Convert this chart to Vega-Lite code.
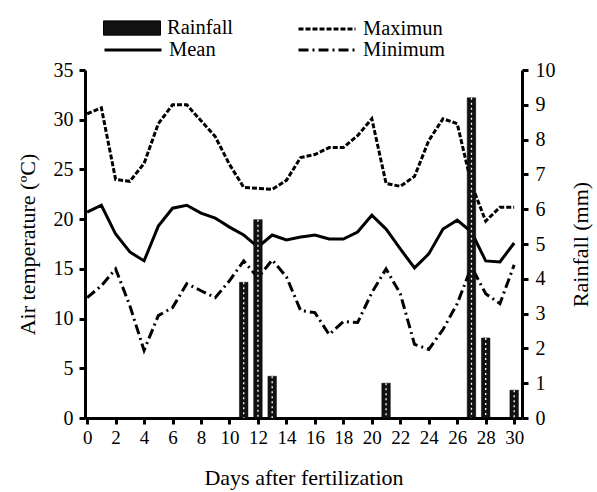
{
  "$schema": "https://vega.github.io/schema/vega-lite/v6.json",
  "width": 437,
  "height": 348,
  "autosize": {"type": "none"},
  "padding": {"left": 85, "top": 70, "right": 75, "bottom": 74},
  "background": "white",
  "config": {
    "view": {"stroke": null},
    "font": "Liberation Serif",
    "axis": {
      "labelFont": "Liberation Serif",
      "titleFont": "Liberation Serif",
      "labelColor": "black",
      "titleColor": "black",
      "domainColor": "black",
      "tickColor": "black",
      "domainWidth": 3,
      "tickWidth": 3,
      "tickSize": 6,
      "labelFontSize": 20,
      "titleFontSize": 22,
      "titleFontWeight": "normal",
      "grid": false
    },
    "legend": {
      "labelFont": "Liberation Serif",
      "labelFontSize": 20.5,
      "labelColor": "black",
      "padding": 0,
      "labelOffset": 6,
      "symbolStrokeWidth": 3,
      "symbolStrokeColor": "black",
      "symbolSize": 3249
    }
  },
  "data": {
    "values": [
      {"day": 0, "max": 30.6, "mean": 20.7, "min": 12.1, "rain": 0},
      {"day": 1, "max": 31.2, "mean": 21.4, "min": 13.3, "rain": 0},
      {"day": 2, "max": 24.0, "mean": 18.5, "min": 15.0, "rain": 0},
      {"day": 3, "max": 23.8, "mean": 16.7, "min": 11.3, "rain": 0},
      {"day": 4, "max": 25.6, "mean": 15.8, "min": 6.8, "rain": 0},
      {"day": 5, "max": 29.6, "mean": 19.3, "min": 10.3, "rain": 0},
      {"day": 6, "max": 31.5, "mean": 21.1, "min": 11.1, "rain": 0},
      {"day": 7, "max": 31.5, "mean": 21.4, "min": 13.5, "rain": 0},
      {"day": 8, "max": 29.9, "mean": 20.6, "min": 12.8, "rain": 0},
      {"day": 9, "max": 28.3, "mean": 20.1, "min": 12.1, "rain": 0},
      {"day": 10, "max": 25.5, "mean": 19.2, "min": 13.8, "rain": 0},
      {"day": 11, "max": 23.2, "mean": 18.4, "min": 15.8, "rain": 3.9},
      {"day": 12, "max": 23.1, "mean": 17.2, "min": 14.1, "rain": 5.7},
      {"day": 13, "max": 23.0, "mean": 18.4, "min": 15.9, "rain": 1.2},
      {"day": 14, "max": 23.9, "mean": 17.9, "min": 14.2, "rain": 0},
      {"day": 15, "max": 26.2, "mean": 18.2, "min": 10.8, "rain": 0},
      {"day": 16, "max": 26.5, "mean": 18.4, "min": 10.6, "rain": 0},
      {"day": 17, "max": 27.2, "mean": 18.0, "min": 8.4, "rain": 0},
      {"day": 18, "max": 27.2, "mean": 18.0, "min": 9.7, "rain": 0},
      {"day": 19, "max": 28.4, "mean": 18.7, "min": 9.6, "rain": 0},
      {"day": 20, "max": 30.1, "mean": 20.4, "min": 12.6, "rain": 0},
      {"day": 21, "max": 23.6, "mean": 19.0, "min": 15.0, "rain": 1.0},
      {"day": 22, "max": 23.3, "mean": 17.0, "min": 12.5, "rain": 0},
      {"day": 23, "max": 24.3, "mean": 15.1, "min": 7.4, "rain": 0},
      {"day": 24, "max": 27.9, "mean": 16.5, "min": 6.9, "rain": 0},
      {"day": 25, "max": 30.1, "mean": 19.0, "min": 8.9, "rain": 0},
      {"day": 26, "max": 29.6, "mean": 19.9, "min": 11.5, "rain": 0},
      {"day": 27, "max": 23.5, "mean": 18.7, "min": 15.2, "rain": 9.2},
      {"day": 28, "max": 19.8, "mean": 15.8, "min": 12.5, "rain": 2.3},
      {"day": 29, "max": 21.2, "mean": 15.7, "min": 11.5, "rain": 0},
      {"day": 30, "max": 21.2, "mean": 17.6, "min": 15.4, "rain": 0.8}
    ]
  },
  "encoding": {
    "x": {
      "field": "day",
      "type": "quantitative",
      "scale": {"domain": [-0.15, 30.55], "nice": false, "zero": false, "padding": 0},
      "axis": {
        "values": [0, 2, 4, 6, 8, 10, 12, 14, 16, 18, 20, 22, 24, 26, 28, 30],
        "title": "Days after fertilization",
        "labelFontSize": 19,
        "labelPadding": 4,
        "titlePadding": 20
      }
    }
  },
  "layer": [
    {
      "layer": [
        {
          "mark": {"type": "line", "strokeWidth": 3, "color": "black", "strokeCap": "butt"},
          "encoding": {
            "y": {
              "field": "max",
              "type": "quantitative",
              "scale": {"domain": [0, 35], "nice": false},
              "axis": {"orient": "left", "values": [0, 5, 10, 15, 20, 25, 30, 35], "title": "Air temperature (ºC)", "labelPadding": 6, "titlePadding": 14}
            },
            "strokeDash": {
              "datum": "Maximun",
              "scale": {"domain": ["Maximun"], "range": [[5, 2]]},
              "legend": {"orient": "none", "legendX": 212, "legendY": -71, "title": null}
            }
          }
        },
        {
          "mark": {"type": "line", "strokeWidth": 3, "color": "black", "strokeCap": "butt"},
          "encoding": {
            "y": {
              "field": "mean",
              "type": "quantitative",
              "scale": {"domain": [0, 35], "nice": false},
              "axis": {"orient": "left", "values": [0, 5, 10, 15, 20, 25, 30, 35], "title": "Air temperature (ºC)", "labelPadding": 6, "titlePadding": 14}
            },
            "strokeDash": {
              "datum": "Mean",
              "scale": {"domain": ["Mean"], "range": [[100, 0]]},
              "legend": {"orient": "none", "legendX": 18, "legendY": -50, "title": null}
            }
          }
        },
        {
          "mark": {"type": "line", "strokeWidth": 3, "color": "black", "strokeCap": "butt"},
          "encoding": {
            "y": {
              "field": "min",
              "type": "quantitative",
              "scale": {"domain": [0, 35], "nice": false},
              "axis": {"orient": "left", "values": [0, 5, 10, 15, 20, 25, 30, 35], "title": "Air temperature (ºC)", "labelPadding": 6, "titlePadding": 14}
            },
            "strokeDash": {
              "datum": "Minimum",
              "scale": {"domain": ["Minimum"], "range": [[10, 4, 2, 4]]},
              "legend": {"orient": "none", "legendX": 212, "legendY": -50, "title": null}
            }
          }
        }
      ],
      "resolve": {"scale": {"strokeDash": "independent"}, "legend": {"strokeDash": "independent"}}
    },
    {
      "transform": [{"filter": "datum.rain > 0"}],
      "layer": [
        {
          "mark": {"type": "bar", "size": 8.5, "stroke": "black", "strokeWidth": 0.5},
          "encoding": {
            "y": {
              "field": "rain",
              "type": "quantitative",
              "scale": {"domain": [0, 10], "nice": false},
              "axis": {"orient": "right", "values": [0, 1, 2, 3, 4, 5, 6, 7, 8, 9, 10], "title": "Rainfall (mm)", "titleAngle": -90, "labelPadding": 7, "titlePadding": 37}
            },
            "fill": {
              "datum": "Rainfall",
              "scale": {"domain": ["Rainfall"], "range": ["#111111"]},
              "legend": {"orient": "none", "legendX": 18, "legendY": -71, "title": null, "symbolType": "M-1,-0.25H1V0.25H-1Z", "symbolStrokeWidth": 1}
            }
          }
        },
        {
          "mark": {"type": "rule", "color": "white", "strokeDash": [2, 3], "strokeWidth": 1.3},
          "encoding": {
            "y": {
              "field": "rain",
              "type": "quantitative",
              "scale": {"domain": [0, 10], "nice": false},
              "axis": {"orient": "right", "values": [0, 1, 2, 3, 4, 5, 6, 7, 8, 9, 10], "title": "Rainfall (mm)", "titleAngle": -90, "labelPadding": 7, "titlePadding": 37}
            },
            "y2": {"datum": 0}
          }
        }
      ]
    }
  ],
  "resolve": {"scale": {"y": "independent"}}
}
